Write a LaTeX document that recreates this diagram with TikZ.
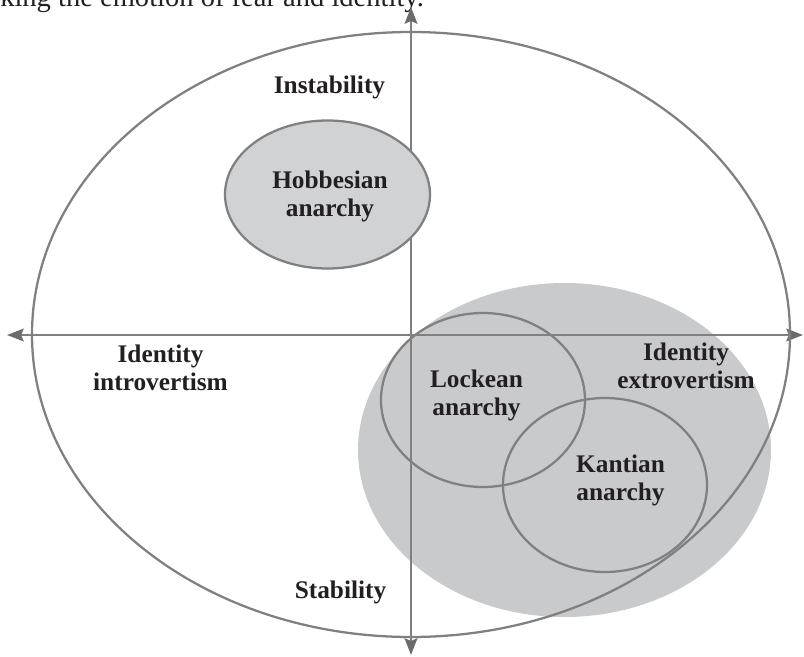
\documentclass[tikz,border=0pt]{standalone}
\usepackage{fontspec}
\setmainfont{Liberation Serif}
\usetikzlibrary{arrows.meta,shapes.geometric}
\definecolor{linegray}{HTML}{808080}
\definecolor{tipgray}{HTML}{6B6B6B}
\definecolor{fillgray}{HTML}{C9CACC}
\definecolor{hobgray}{HTML}{D1D2D4}
\definecolor{ink}{HTML}{231F20}
\tikzset{
  region/.style={ellipse, inner sep=0pt, outer sep=0pt},
  outline/.style={region, draw=linegray, line width=1.7pt},
  axis/.style={draw=linegray, line width=1.9pt,
    {Stealth[length=12.5pt,width=9.5pt,inset=2pt,color=tipgray]}-{Stealth[length=12.5pt,width=9.5pt,inset=2pt,color=tipgray]}},
  lbl/.style={anchor=base, text=ink, font=\fontsize{19}{21.3}\selectfont\bfseries, inner sep=0pt},
}
\newcommand{\twoline}[2]{\begin{tabular}[t]{@{}c@{}}#1\\#2\end{tabular}}
\begin{document}
\begin{tikzpicture}[x=0.75pt,y=-0.75pt]
\useasboundingbox (0,0) rectangle (804,657);
\clip (0,0) rectangle (804,657);
% caption fragment at the top
\node[anchor=base west, inner sep=0pt, text=ink, font=\fontsize{21.4}{24}\selectfont] (cap) at (0,6.5) {king the emotion of fear and identity.};
% large shaded region
\node[region, fill=fillgray, minimum width=309.75pt, minimum height=250.5pt] (shade) at (564.5,450) {};
% axes
\coordinate (top) at (411,7);
\coordinate (bottom) at (411,655);
\coordinate (left) at (7,335);
\coordinate (right) at (803,335);
\draw[axis] (top) -- (bottom);
\draw[axis] (left) -- (right);
% outlines
\node[outline, minimum width=568.5pt, minimum height=453.75pt] (outer) at (411,334.5) {};
\node[outline, minimum width=153pt, minimum height=130.5pt] (locke) at (483,400) {};
\node[outline, minimum width=153pt, minimum height=130.5pt] (kant) at (605,485) {};
\node[outline, fill=hobgray, minimum width=153.75pt, minimum height=111pt] (hobbes) at (327.5,194.5) {};
% labels
\node[lbl] (instab) at (329.5,93) {Instability};
\node[lbl] (stab) at (340.5,598) {Stability};
\node[lbl] (hobl) at (330,188) {\twoline{Hobbesian}{anarchy}};
\node[lbl] (intro) at (160.5,362) {\twoline{Identity}{introvertism}};
\node[lbl] (extro) at (686,360) {\twoline{Identity}{extrovertism}};
\node[lbl] (lockl) at (476.5,387) {\twoline{Lockean}{anarchy}};
\node[lbl] (kantl) at (620.5,472) {\twoline{Kantian}{anarchy}};
\end{tikzpicture}
\end{document}
